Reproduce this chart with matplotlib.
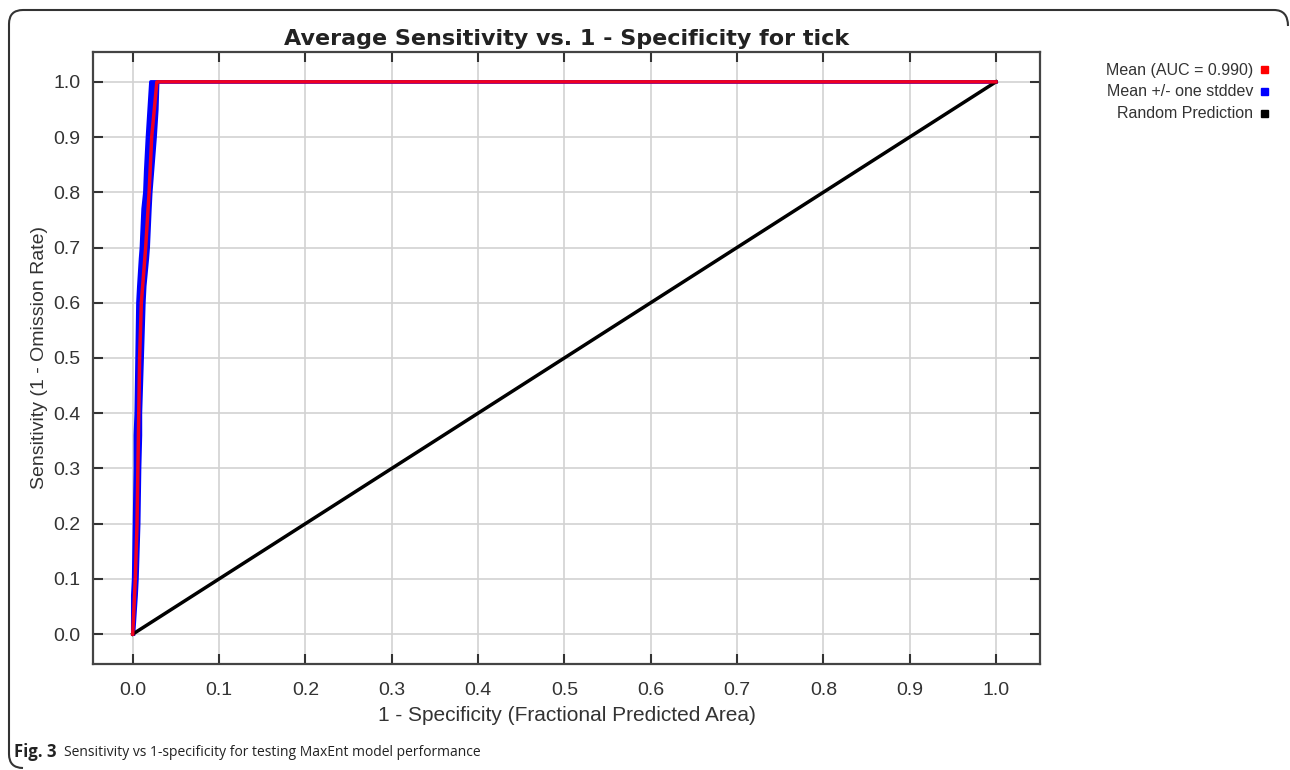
import matplotlib
matplotlib.use("Agg")
import matplotlib.pyplot as plt
from matplotlib.path import Path
from matplotlib.patches import PathPatch, Rectangle

plt.rcParams['font.family'] = ['Liberation Sans', 'DejaVu Sans']

# mean ROC curve (fractional predicted area vs sensitivity)
mean_area = [0.0, 0.003, 0.005, 0.006, 0.007, 0.008, 0.010, 0.015, 0.019, 0.022, 0.028, 1.0]
mean_sens = [0.0, 0.1, 0.2, 0.3, 0.4, 0.5, 0.6, 0.7, 0.8, 0.9, 1.0, 1.0]

# mean +/- one stddev
sd_sens = [0.0, 0.07, 0.1, 0.2, 0.3, 0.36, 0.4, 0.5, 0.6, 0.63, 0.68, 0.7, 0.77, 0.8, 0.84, 0.9, 0.95, 1.0, 1.0]
sd_low = [0.0, 0.000, 0.001, 0.002, 0.003, 0.003, 0.004, 0.005, 0.006, 0.007, 0.009, 0.010, 0.012, 0.014, 0.015, 0.017, 0.019, 0.021, 1.0]
sd_high = [0.001, 0.004, 0.005, 0.007, 0.008, 0.009, 0.009, 0.011, 0.013, 0.014, 0.017, 0.018, 0.020, 0.021, 0.023, 0.026, 0.028, 0.029, 1.0]

random_x = [0.0, 1.0]
random_y = [0.0, 1.0]

ticks = [0.0, 0.1, 0.2, 0.3, 0.4, 0.5, 0.6, 0.7, 0.8, 0.9, 1.0]
legend_labels = ["Mean (AUC = 0.990)", "Mean +/- one stddev", "Random Prediction"]
legend_colors = ["#ff0000", "#0000ff", "#000000"]

fig = plt.figure(figsize=(12.9, 7.7), dpi=100)
W, H = 1290, 770
ax = fig.add_axes([93 / W, 1 - 664 / H, (1040 - 93) / W, (664 - 52) / H])

ax.fill_betweenx(sd_sens, sd_low, sd_high, color="#0000ff", lw=0)
ax.plot(sd_low, sd_sens, color="#0000ff", lw=2.5)
ax.plot(sd_high, sd_sens, color="#0000ff", lw=2.5)
ax.plot(random_x, random_y, color="black", lw=2.5)
ax.plot(mean_area, mean_sens, color="#f00020", lw=2.5)

ax.set_xlim(-0.046, 1.051)
ax.set_ylim(-0.054, 1.054)
ax.set_xticks(ticks)
ax.set_yticks(ticks)
ax.set_xticklabels([f"{t:.1f}" for t in ticks])
ax.set_yticklabels([f"{t:.1f}" for t in ticks])
ax.tick_params(direction="in", length=7, width=1.5, top=True, right=True,
               labelsize=14, colors="#333333", labelcolor="#333333", pad=9)
ax.tick_params(axis="x", pad=13)
ax.grid(True, color="#d2d2d2", lw=1.2)
ax.set_axisbelow(True)
for s in ax.spines.values():
    s.set_color("#444444")
    s.set_linewidth(1.6)

ax.set_title("Average Sensitivity vs. 1 - Specificity for tick", fontsize=16,
             fontweight="bold", color="#222222", pad=5, family=["DejaVu Sans"])
ax.set_xlabel("1 - Specificity (Fractional Predicted Area)", fontsize=15, color="#333333", labelpad=5)
ax.set_ylabel("Sensitivity (1 - Omission Rate)", fontsize=14, color="#333333", labelpad=4)

# legend on the right
for i, (lab, col) in enumerate(zip(legend_labels, legend_colors)):
    y = 1 - (70 + i * 22) / H
    fig.text(1253 / W, y, lab, ha="right", va="center", fontsize=11.5, color="#333333")
    fig.patches.append(Rectangle((1261 / W, y - 3 / H), 7 / W, 7 / H,
                                 transform=fig.transFigure, color=col, figure=fig))

# caption
fig.text(14 / W, 1 - 752 / H, "Fig. 3", fontsize=12, fontweight="bold", color="#222222",
         va="center", family=["Open Sans", "DejaVu Sans"])
fig.text(64 / W, 1 - 752 / H, "Sensitivity vs 1-specificity for testing MaxEnt model performance",
         fontsize=10, color="#222222", va="center", family=["Open Sans", "DejaVu Sans"])

# bracket-like rounded border
r = 14
verts = [(1288, 26), (1288, 10), (1288 - r, 10), (9 + r, 10), (9, 10), (9, 10 + r),
         (9, 768 - r), (9, 768), (9 + r, 768)]
codes = [Path.MOVETO, Path.CURVE3, Path.CURVE3, Path.LINETO, Path.CURVE3, Path.CURVE3,
         Path.LINETO, Path.CURVE3, Path.CURVE3]
verts = [(x / W, 1 - y / H) for x, y in verts]
fig.patches.append(PathPatch(Path(verts, codes), transform=fig.transFigure, fill=False,
                             edgecolor="#333333", lw=1.5, figure=fig))

fig.savefig("out.png", dpi=100)
